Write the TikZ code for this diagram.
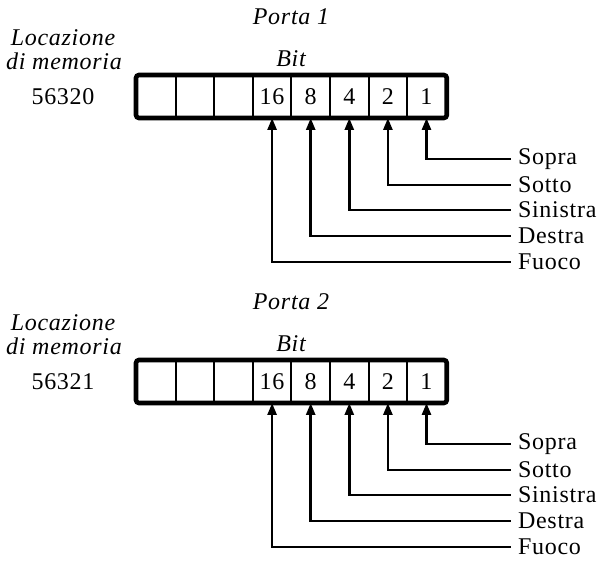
\documentclass[tikz,border=0pt]{standalone}
\usepackage{fontspec}
\setmainfont[LetterSpace=3]{Liberation Serif}
\usetikzlibrary{arrows.meta}

\begin{document}
\begin{tikzpicture}[x=0.5pt, y=-0.5pt, every node/.style={font=\fontsize{12}{14}\selectfont}, >={Triangle[length=6pt,width=4.5pt]}]
	\useasboundingbox (0,0) rectangle (602,562);
	\foreach \p/\dy/\addr in {1/0/56320, 2/285/56321} {
		% titles
		\node (porta\p) at (291,17+\dy) {\itshape Porta \p};
		\node (bit\p) at (291,59+\dy) {\itshape Bit};
		\node (loc\p) at (63,38+\dy) {\itshape Locazione};
		\node (mem\p) at (64,61+\dy) {\itshape di memoria};
		\node (addr\p) at (63,97+\dy) {\addr};
		% cells
		\foreach \i/\lab in {0/{},1/{},2/{},3/16,4/8,5/4,6/2,7/1} {
			\node[draw, line width=1pt, minimum width=19.3pt, minimum height=20.5pt, inner sep=0pt] (c\p-\i) at (156.3+\i*38.6, 96.5+\dy) {\lab};
		}
		\draw[line width=2.3pt, rounded corners=1.5pt] (c\p-0.north west) rectangle (c\p-7.south east);
		% lines
		\foreach \k/\i/\y/\txt in {1/7/159/Sopra, 2/6/185/Sotto, 3/5/210/Sinistra, 4/4/236/Destra, 5/3/262/Fuoco} {
			\node[anchor=west] (l\p-\k) at (511,\y+\dy) {\txt};
			\draw[->, line width=1.3pt] (l\p-\k.west) -| (c\p-\i.south);
		}
	}
\end{tikzpicture}
\end{document}
